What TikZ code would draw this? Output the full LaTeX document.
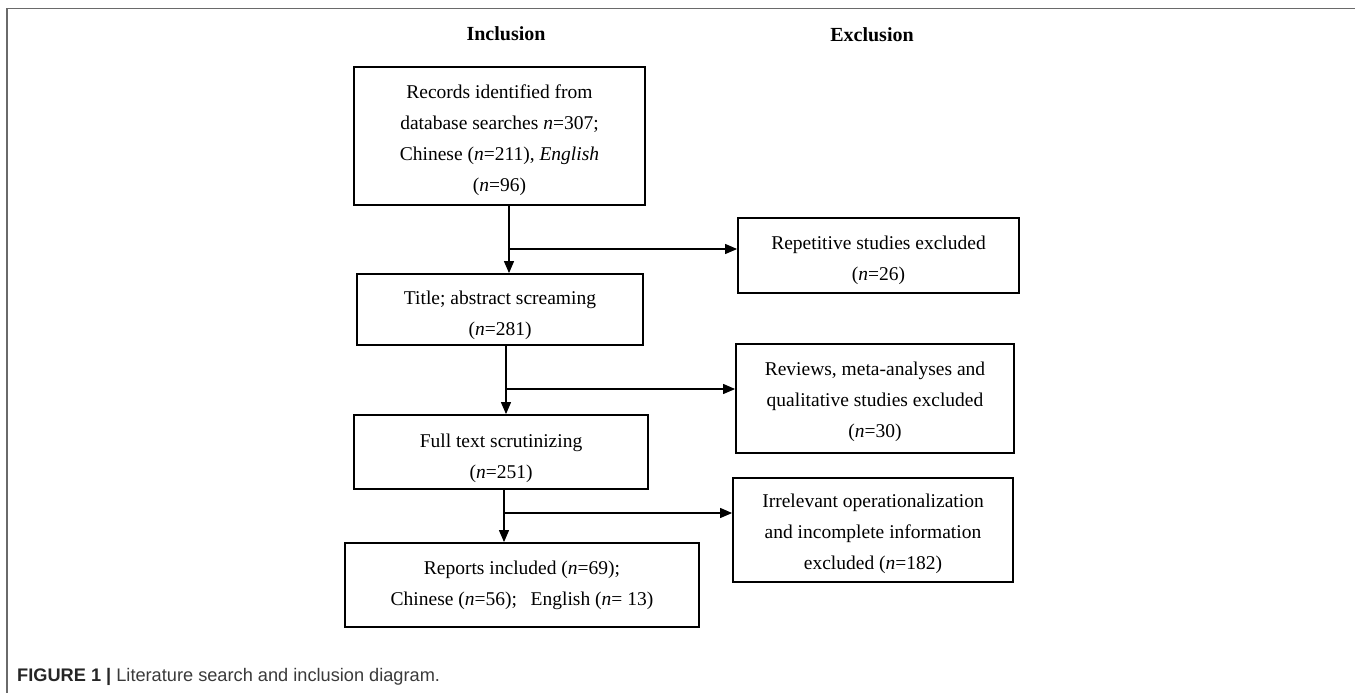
\documentclass[tikz,border=0pt]{standalone}
\usepackage{fontspec}
\setmainfont{Liberation Serif}
\newfontfamily\capfont{Liberation Sans}
\usetikzlibrary{arrows.meta}
\definecolor{framegray}{HTML}{6A6A6A}
\definecolor{captext}{HTML}{3A3A3A}
\tikzset{
  flowbox/.style={draw=black, line width=1.8pt, inner sep=0pt},
  boxtext/.style={align=center, inner sep=0pt, font=\fontsize{19.5}{31}\selectfont},
  header/.style={font=\fontsize{20}{24}\selectfont\bfseries},
  conn/.style={draw=black, line width=1.1pt, -{Triangle[length=12pt,width=10pt]}},
}
\begin{document}
\begin{tikzpicture}[x=1pt,y=-1pt]
\useasboundingbox (0,0) rectangle (1355,693);
% outer frame (top and left)
\draw[framegray, line width=1.5pt] (7,693) -- (7,8.5) -- (1355,8.5);

% headers
\node[header] (hin) at (506,34) {Inclusion};
\node[header] (hex) at (872,35) {Exclusion};

% inclusion column
\node[flowbox, minimum width=291pt, minimum height=138pt] (b1) at (499.5,136) {};
\node[boxtext] (t1) at ([yshift=-4.5pt]b1.center)
  {Records identified from\\database searches \textit{n}=307;\\Chinese (\textit{n}=211), \textit{English}\\(\textit{n}=96)};
\node[flowbox, minimum width=286pt, minimum height=71pt] (b2) at (500,309.5) {};
\node[boxtext] (t2) at ([yshift=-6pt]b2.center)
  {Title; abstract screaming\\(\textit{n}=281)};
\node[flowbox, minimum width=294pt, minimum height=74pt] (b3) at (501,452) {};
\node[boxtext] (t3) at ([yshift=-6.5pt]b3.center)
  {Full text scrutinizing\\(\textit{n}=251)};
\node[flowbox, minimum width=354pt, minimum height=84pt] (b4) at (522,585) {};
\node[boxtext] (t4) at ([yshift=0pt]b4.center)
  {Reports included (\textit{n}=69);\\Chinese (\textit{n}=56);\hspace{0.7em}English (\textit{n}= 13)};

% exclusion column
\node[flowbox, minimum width=281pt, minimum height=75pt] (e1) at (878.5,255.5) {};
\node[boxtext] (s1) at ([yshift=-5pt]e1.center)
  {Repetitive studies excluded\\(\textit{n}=26)};
\node[flowbox, minimum width=278pt, minimum height=109pt] (e2) at (875,398.5) {};
\node[boxtext] (s2) at ([yshift=-3.5pt]e2.center)
  {Reviews, meta-analyses and\\qualitative studies excluded\\(\textit{n}=30)};
\node[flowbox, minimum width=280pt, minimum height=104pt] (e3) at (873,530) {};
\node[boxtext] (s3) at ([yshift=-4pt]e3.center)
  {Irrelevant operationalization\\and incomplete information\\excluded (\textit{n}=182)};

% junction points
\coordinate (j1) at (509,249);
\coordinate (j2) at (506,389);
\coordinate (j3) at (504,513);

% connectors
\draw[conn] (b1.south -| j1) -- (b2.north -| j1);
\draw[conn] (j1) -- (j1 -| e1.west);
\draw[conn] (b2.south -| j2) -- (b3.north -| j2);
\draw[conn] (j2) -- (j2 -| e2.west);
\draw[conn] (b3.south -| j3) -- (b4.north -| j3);
\draw[conn] (j3) -- (j3 -| e3.west);

% caption
\node[anchor=west, inner sep=0pt, text=captext] (cap) at (17,677)
  {\capfont\fontsize{18.2}{21}\selectfont\textcolor{black!85}{\textbf{FIGURE 1 |}} Literature search and inclusion diagram.};
\end{tikzpicture}
\end{document}
